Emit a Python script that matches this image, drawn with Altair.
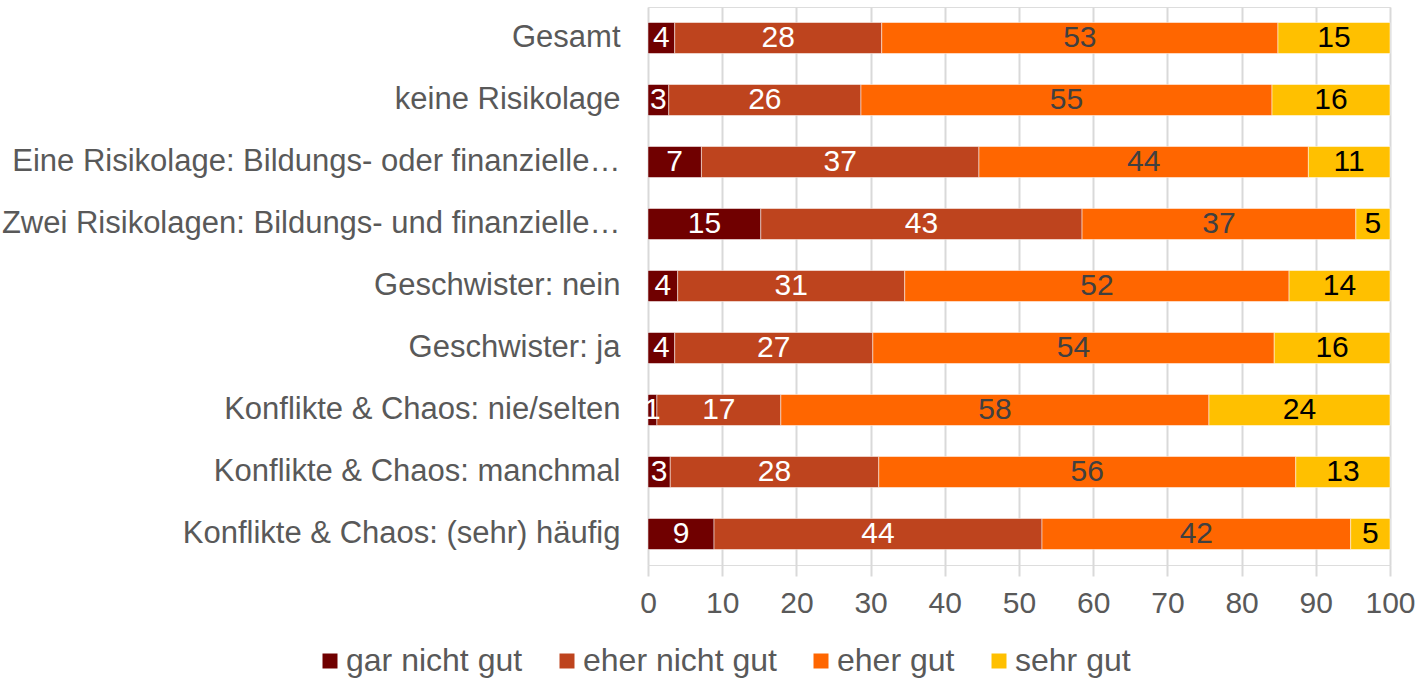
import altair as alt
import pandas as pd

categories = [
    "Gesamt",
    "keine Risikolage",
    "Eine Risikolage: Bildungs- oder finanzielle…",
    "Zwei Risikolagen: Bildungs- und finanzielle…",
    "Geschwister: nein",
    "Geschwister: ja",
    "Konflikte & Chaos: nie/selten",
    "Konflikte & Chaos: manchmal",
    "Konflikte & Chaos: (sehr) häufig",
]
responses = ["gar nicht gut", "eher nicht gut", "eher gut", "sehr gut"]
gar_nicht_gut = [3.6, 2.8, 7.2, 15.2, 4.0, 3.6, 1.2, 3.0, 8.9]
eher_nicht_gut = [27.9, 25.9, 37.4, 43.3, 30.6, 26.7, 16.7, 28.1, 44.2]
eher_gut = [53.4, 55.4, 44.4, 36.9, 51.8, 54.1, 57.7, 56.2, 41.6]
sehr_gut = [15.1, 15.9, 11.0, 4.6, 13.6, 15.6, 24.4, 12.7, 5.3]
x_ticks = list(range(0, 101, 10))

bar_colors = ["#700000", "#BE441E", "#FF6600", "#FFC000"]
text_colors = ["#FFFFFF", "#FFFFFF", "#404040", "#000000"]

series = [gar_nicht_gut, eher_nicht_gut, eher_gut, sehr_gut]
rows = []
for ri, (resp, vals) in enumerate(zip(responses, series)):
    for cat, v in zip(categories, vals):
        rows.append({"cat": cat, "resp": resp, "value": v, "order": ri})
df = pd.DataFrame(rows)

FONT = "Liberation Sans"

base = alt.Chart(df).transform_stack(
    stack="value", groupby=["cat"], as_=["x0", "x1"],
    sort=[alt.SortField("order", order="ascending")]
).transform_calculate(mid="(datum.x0 + datum.x1) / 2")

y_enc = alt.Y(
    "cat:N", sort=categories, title=None,
    scale=alt.Scale(paddingInner=0.5, paddingOuter=0.25),
    axis=alt.Axis(ticks=False, tickSize=0, domain=False, labelFontSize=31,
                  labelColor="#595959", labelFont=FONT, labelPadding=28,
                  labelLimit=800),
)

bars = base.mark_bar(stroke="white", strokeWidth=0.5).encode(
    y=y_enc,
    x=alt.X("x0:Q", title=None, scale=alt.Scale(domain=[0, 100], nice=False),
            axis=alt.Axis(values=x_ticks, grid=True, gridColor="#D9D9D9",
                          gridWidth=2, domain=False, tickColor="#D9D9D9",
                          tickWidth=2, tickSize=11, labelFontSize=30,
                          labelColor="#595959", labelFont=FONT,
                          labelPadding=12, labelFlush=False)),
    x2="x1:Q",
    color=alt.Color("resp:N", sort=responses,
                    scale=alt.Scale(domain=responses, range=bar_colors),
                    legend=alt.Legend(title=None, orient="none",
                                      direction="horizontal",
                                      legendX=-334, legendY=638,
                                      symbolType="square", symbolSize=225,
                                      symbolStrokeWidth=0, labelFontSize=32,
                                      labelColor="#595959", labelFont=FONT,
                                      labelOffset=0, columnPadding=28,
                                      labelLimit=500, padding=0)),
)

labels = base.mark_text(fontSize=30, font=FONT).encode(
    y=alt.Y("cat:N", sort=categories),
    x=alt.X("mid:Q"),
    text=alt.Text("value:Q", format=".0f"),
    color=alt.Color("resp:N", scale=alt.Scale(domain=responses, range=text_colors),
                    legend=None),
)

chart = alt.layer(bars, labels).resolve_scale(color="independent").properties(
    width=742, height=558,
    autosize=alt.AutoSizeParams(type="none"),
    padding={"left": 648, "top": 7, "right": 28, "bottom": 113},
).configure_view(strokeWidth=0).configure(background="white")

chart.save("out.html", embed_options={"renderer": "svg", "actions": False})
